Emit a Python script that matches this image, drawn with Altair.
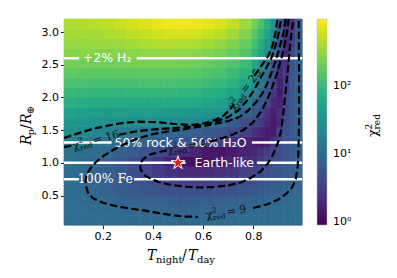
import altair as alt
import pandas as pd

# ---------------- data ----------------
x_edges = [0.045, 0.095, 0.145, 0.195, 0.245, 0.295, 0.345, 0.395, 0.445, 0.495,
           0.545, 0.595, 0.645, 0.695, 0.745, 0.795, 0.82, 0.845, 0.87, 0.895,
           0.92, 0.945, 0.97, 0.995]
y_edges = [0.05, 0.2, 0.35, 0.5, 0.65, 0.8, 0.95, 1.1, 1.25, 1.4, 1.55, 1.7,
           1.85, 2.0, 2.15, 2.3, 2.45, 2.6, 2.75, 2.9, 3.05, 3.2]
# reduced chi^2, rows from bottom (Rp small) to top
chi2_rows = [
    [11, 11, 11, 10.5, 10.5, 10, 10, 9.8, 9.6, 9.5, 9.5, 9.6, 9.8, 10, 10.2, 10.4, 10.5, 10.6, 10.7, 10.8, 10.9, 11, 11],
    [11, 10.8, 10.5, 10, 9.5, 9.0, 8.6, 8.3, 8.1, 8.0, 8.1, 8.3, 8.6, 9.0, 9.3, 9.6, 9.8, 10, 10.2, 10.4, 10.6, 10.8, 11],
    [10.8, 10.3, 9.5, 8.8, 8.2, 7.8, 7.4, 7.1, 6.9, 6.8, 6.8, 6.9, 7.1, 7.4, 7.8, 8.1, 8.4, 8.7, 9.0, 9.4, 9.8, 10.2, 10.5],
    [10.5, 9.6, 8.6, 7.8, 7.0, 6.3, 5.7, 5.2, 4.8, 4.5, 4.4, 4.5, 4.7, 5.0, 5.5, 5.9, 6.3, 6.7, 7.1, 7.6, 8.1, 8.6, 9.2],
    [10.3, 9.3, 8.2, 7.2, 6.3, 5.5, 4.8, 4.1, 3.6, 3.3, 3.2, 3.3, 3.5, 3.8, 4.2, 4.6, 5.0, 5.4, 5.9, 6.4, 7.0, 7.7, 8.5],
    [10.5, 9.6, 8.4, 7.2, 6.0, 4.8, 3.8, 3.0, 2.4, 2.1, 2.0, 2.1, 2.3, 2.6, 3.2, 3.7, 4.1, 4.6, 5.2, 5.8, 6.5, 7.3, 8.3],
    [11, 10, 8.8, 7.5, 6.0, 4.6, 3.6, 2.6, 1.7, 1.2, 1.1, 1.3, 1.5, 1.8, 2.2, 2.6, 3.0, 3.8, 4.4, 5.0, 5.8, 6.7, 7.9],
    [12.5, 11.5, 10.2, 9.2, 8.0, 6.8, 5.5, 4.2, 3.2, 2.4, 1.8, 1.4, 1.3, 1.4, 1.7, 2.0, 2.4, 2.9, 3.9, 4.6, 5.4, 6.4, 7.6],
    [18, 16.5, 14.5, 12.5, 10.8, 9.2, 8.0, 7.0, 6.0, 5.2, 4.6, 4.1, 3.4, 2.5, 1.8, 1.5, 1.4, 1.5, 2.6, 3.8, 5.0, 6.2, 7.5],
    [28, 25, 22, 19, 17, 15.3, 13, 10.5, 8.8, 8.0, 7.2, 6.3, 5.3, 4.3, 3.2, 2.4, 1.8, 1.5, 1.4, 3.9, 5.2, 6.6, 8.0],
    [38, 34, 30, 28, 27, 26, 26, 26, 26, 25, 23, 18, 9.5, 6.5, 4.6, 3.8, 2.8, 1.9, 1.4, 1.9, 4.2, 6.5, 8.2],
    [52, 48, 44, 42, 41, 41, 41, 41, 40, 38, 36, 33, 30, 17, 8, 5.5, 3.9, 2.4, 1.5, 2.4, 4.3, 6.5, 8.4],
    [72, 68, 64, 62, 62, 62, 63, 63, 62, 60, 57, 52, 46, 32, 16, 8.5, 6, 4.0, 2.0, 1.7, 4.2, 6.5, 8.4],
    [98, 94, 90, 88, 88, 89, 90, 90, 89, 86, 82, 76, 67, 55, 30, 17, 9.5, 5.5, 3.0, 1.5, 3.6, 6.3, 8.4],
    [130, 126, 122, 120, 121, 123, 125, 126, 125, 121, 115, 106, 94, 78, 55, 26, 15, 8, 4, 1.6, 3.0, 6.2, 8.4],
    [170, 166, 162, 160, 162, 165, 168, 170, 168, 163, 155, 143, 127, 106, 78, 35, 22, 10, 4.8, 1.8, 3.0, 6.0, 8.4],
    [220, 215, 212, 210, 212, 216, 220, 223, 221, 214, 203, 187, 166, 140, 105, 60, 32, 14, 6, 2.5, 2.4, 5.5, 8.4],
    [270, 266, 264, 264, 268, 278, 290, 300, 302, 296, 280, 255, 222, 185, 140, 85, 50, 26, 12, 4.0, 1.8, 4.2, 8.2],
    [320, 318, 320, 330, 345, 370, 395, 420, 432, 428, 405, 365, 310, 250, 185, 115, 70, 36, 17, 5.0, 1.8, 3.6, 8.0],
    [370, 372, 380, 400, 430, 480, 530, 580, 620, 620, 600, 540, 460, 360, 250, 150, 95, 50, 24, 7.0, 2.0, 3.0, 7.8],
    [420, 428, 450, 490, 540, 600, 680, 760, 820, 830, 800, 740, 650, 500, 340, 210, 130, 70, 30, 8.0, 2.2, 2.5, 7.5],
]

# dashed contours (segments separated where the inline labels sit)
contour_25 = [
    [(0.045, 1.38), (0.10, 1.45), (0.16, 1.52), (0.22, 1.57), (0.28, 1.61), (0.34, 1.63), (0.42, 1.62),
     (0.50, 1.59), (0.56, 1.58), (0.61, 1.61), (0.65, 1.66), (0.685, 1.73), (0.71, 1.83), (0.725, 1.90)],
    [(0.805, 2.33), (0.83, 2.47), (0.86, 2.63), (0.878, 2.8), (0.89, 3.0), (0.897, 3.2)],
]
contour_16 = [
    [(0.045, 1.24), (0.075, 1.265)],
    [(0.265, 1.43), (0.33, 1.48), (0.40, 1.51), (0.47, 1.53), (0.54, 1.55), (0.60, 1.58), (0.65, 1.63),
     (0.70, 1.70), (0.74, 1.80), (0.775, 1.95), (0.805, 2.12), (0.83, 2.30), (0.855, 2.47), (0.875, 2.62),
     (0.89, 2.80), (0.903, 3.0), (0.912, 3.2)],
]
contour_9 = [
    [(0.93, 3.2), (0.922, 3.0), (0.908, 2.8), (0.893, 2.6), (0.875, 2.4), (0.855, 2.2), (0.835, 2.05),
     (0.81, 1.92), (0.78, 1.80), (0.745, 1.70), (0.70, 1.64), (0.64, 1.59), (0.58, 1.55), (0.52, 1.51),
     (0.46, 1.48), (0.40, 1.44), (0.33, 1.36), (0.26, 1.24), (0.20, 1.10), (0.16, 0.97), (0.135, 0.82),
     (0.13, 0.69), (0.14, 0.55), (0.16, 0.46), (0.20, 0.39), (0.25, 0.34), (0.31, 0.30), (0.37, 0.27),
     (0.44, 0.22), (0.52, 0.18), (0.58, 0.175)],
    [(0.80, 0.31), (0.86, 0.37), (0.90, 0.44), (0.93, 0.52), (0.955, 0.62), (0.97, 0.75), (0.978, 0.95),
     (0.981, 1.2), (0.983, 1.6), (0.983, 2.0), (0.983, 2.5), (0.982, 3.0), (0.982, 3.2)],
]
contour_4 = [
    [(0.942, 3.2), (0.935, 3.0), (0.925, 2.8), (0.913, 2.6), (0.898, 2.4), (0.88, 2.2), (0.86, 2.0),
     (0.835, 1.8), (0.80, 1.62), (0.76, 1.50), (0.71, 1.42), (0.66, 1.36), (0.615, 1.31)],
    [(0.455, 1.19), (0.43, 1.17), (0.39, 1.13), (0.365, 1.07), (0.35, 1.0), (0.35, 0.90), (0.37, 0.80),
     (0.42, 0.71), (0.47, 0.665), (0.52, 0.64), (0.58, 0.625), (0.64, 0.63), (0.70, 0.655), (0.75, 0.70),
     (0.79, 0.77), (0.83, 0.87), (0.86, 1.0), (0.88, 1.13), (0.90, 1.32), (0.912, 1.5), (0.92, 1.74),
     (0.927, 2.0), (0.935, 2.3), (0.943, 2.6), (0.95, 2.9), (0.957, 3.1), (0.96, 3.2)],
]
contour_levels = ["25", "16", "9", "4"]
contour_label_x = [0.765, 0.17, 0.69, 0.535]
contour_label_y = [2.115, 1.345, 0.245, 1.25]
contour_label_angle = [307, 345, 351, 349]

# composition lines
comp_names = ["+2% H₂", "50% rock & 50% H₂O", "Earth-like", "100% Fe"]
comp_radius = [2.6, 1.31, 1.0, 0.75]
comp_label_x = [0.217, 0.51, 0.685, 0.21]
comp_fonts = ["DejaVu Sans", "DejaVu Sans", "DejaVu Sans", "DejaVu Serif"]
comp_segments = [
    [(0.045, 0.105), (0.335, 0.995)],
    [(0.045, 0.235), (0.795, 0.995)],
    [(0.045, 0.53), (0.815, 0.995)],
    [(0.045, 0.105), (0.325, 0.995)],
]
earth_t = [0.5]
earth_r = [1.0]

x_ticks = [0.2, 0.4, 0.6, 0.8]
y_ticks = [0.5, 1.0, 1.5, 2.0, 2.5, 3.0]
cbar_ticks = [1, 10, 100]

STAR = ("M0,-1L0.2245,-0.309L0.9511,-0.309L0.3633,0.118L0.5878,0.809L0,0.382"
        "L-0.5878,0.809L-0.3633,0.118L-0.9511,-0.309L-0.2245,-0.309Z")

# ---------------- tables ----------------
heat_rows = []
for j, row in enumerate(chi2_rows):
    for i, v in enumerate(row):
        heat_rows.append({"x0": x_edges[i], "x1": x_edges[i + 1],
                          "y0": y_edges[j], "y1": y_edges[j + 1], "chi2": v})
heat_df = pd.DataFrame(heat_rows)

wl_rows = []
for name, r, segs in zip(comp_names, comp_radius, comp_segments):
    for a, b in segs:
        wl_rows.append({"x0": a, "x1": b, "y": r, "name": name})
wl_df = pd.DataFrame(wl_rows)

W, H = 238, 206
xs = alt.Scale(domain=[0.045, 0.995], nice=False, zero=False)
ys = alt.Scale(domain=[0.05, 3.2], nice=False, zero=False)
cs = alt.Scale(type="log", domain=[0.9, 950], scheme="viridis", clamp=True)

label_expr = "datum.value == 1 ? '10\u2070' : datum.value == 10 ? '10\u00b9' : '10\u00b2'"

heat = alt.Chart(heat_df).mark_rect(
    stroke=alt.ExprRef(expr="scale('color', datum.chi2)"), strokeWidth=0.7
).encode(
    x=alt.X("x0:Q", scale=xs, title=None,
            axis=alt.Axis(values=x_ticks, format=".1f")),
    x2="x1:Q",
    y=alt.Y("y0:Q", scale=ys, title=None,
            axis=alt.Axis(values=y_ticks, format=".1f")),
    y2="y1:Q",
    color=alt.Color("chi2:Q", scale=cs, title=None,
                    legend=alt.Legend(type="gradient", orient="none", legendX=W + 15, legendY=0,
                                      direction="vertical", gradientLength=H,
                                      gradientThickness=10, values=cbar_ticks,
                                      labelExpr=label_expr, labelFont="DejaVu Sans",
                                      labelFontSize=11, labelColor="black",
                                      labelOffset=6, gradientStrokeColor="#bbbbbb",
                                      gradientStrokeWidth=0.5, padding=0)),
)

wlines = alt.Chart(wl_df).mark_rule(color="white", strokeWidth=2.5).encode(
    x=alt.X("x0:Q", title=None), x2="x1:Q", y=alt.Y("y:Q", title=None))

wtexts = []
for name, r, lx, f in zip(comp_names, comp_radius, comp_label_x, comp_fonts):
    wtexts.append(
        alt.Chart(pd.DataFrame({"x": [lx], "y": [r], "t": [name]}))
        .mark_text(color="white", font=f, fontSize=12.5, align="center", baseline="middle")
        .encode(x=alt.X("x:Q", title=None), y=alt.Y("y:Q", title=None), text="t:N"))

contour_layers = []
for lev, segs in zip(contour_levels, [contour_25, contour_16, contour_9, contour_4]):
    for seg in segs:
        sdf = pd.DataFrame({"x": [p[0] for p in seg], "y": [p[1] for p in seg],
                            "ord": list(range(len(seg)))})
        contour_layers.append(
            alt.Chart(sdf).mark_line(color="black", strokeWidth=2.2, strokeDash=[7.5, 3.3])
            .encode(x=alt.X("x:Q", title=None), y=alt.Y("y:Q", title=None),
                    order="ord:Q"))


def clabel(xv, yv, ang, num):
    w = 6.5 + 13 + 1.5 + (12 + 6.7 * len(num))
    s = -w / 2
    base = alt.Chart(pd.DataFrame({"x": [xv], "y": [yv]}))
    enc = dict(x=alt.X("x:Q", title=None), y=alt.Y("y:Q", title=None))
    parts = [
        ("χ", 11, s, 3.5),
        ("2", 7.5, s + 6.5, -1.5),
        ("red", 7.5, s + 6.5, 6.0),
        ("= " + num, 11, s + 21, 3.5),
    ]
    out = []
    for t, fs, dx, dy in parts:
        out.append(base.mark_text(text=t, font="DejaVu Serif", fontSize=fs, color="#111111",
                                  align="left", baseline="alphabetic", angle=ang,
                                  dx=dx, dy=dy).encode(**enc))
    return out


clabels = []
for lev, lx, ly, la in zip(contour_levels, contour_label_x, contour_label_y, contour_label_angle):
    clabels += clabel(lx, ly, la, lev)

star = alt.Chart(pd.DataFrame({"x": earth_t, "y": earth_r})).mark_point(
    shape=STAR, filled=True, size=200, fill="#ee1111", stroke="white",
    strokeWidth=1, opacity=1).encode(x=alt.X("x:Q", title=None), y=alt.Y("y:Q", title=None))

dummy = pd.DataFrame({"a": [0]})


def ptxt(t, px, py, fs, style="normal", angle=0, dx=0, dy=0, font="DejaVu Serif"):
    return alt.Chart(dummy).mark_text(text=t, font=font, fontSize=fs, fontStyle=style,
                                      angle=angle, dx=dx, dy=dy, color="black",
                                      align="left", baseline="alphabetic").encode(
        x=alt.value(px), y=alt.value(py))


titles = [
    # x-axis title  T_night / T_day
    ptxt("T", 83, 241, 14, "italic"),
    ptxt("night", 92, 244, 10),
    ptxt("/", 118, 241, 14),
    ptxt("T", 124, 241, 14, "italic"),
    ptxt("day", 133, 244, 10),
    # y-axis title  R_p / R_⊕
    ptxt("R", -33, 126, 14, "italic", 270, 0, 0),
    ptxt("p", -33, 126, 10, "normal", 270, 9.5, 3),
    ptxt("/", -33, 126, 14, "normal", 270, 16, 0),
    ptxt("R", -33, 126, 14, "italic", 270, 21, 0),
    ptxt("⊕", -33, 126, 10, "normal", 270, 30.5, 3),
    # colour-bar title  chi^2_red
    ptxt("χ", 313, 118, 13, "normal", 270, 0, 0),
    ptxt("2", 313, 118, 9, "normal", 270, 7.5, -5),
    ptxt("red", 313, 118, 9, "normal", 270, 7.5, 3),
]

chart = alt.layer(heat, wlines, *wtexts, *contour_layers, *clabels, star, *titles).properties(
    width=W, height=H, padding={"left": 12, "top": 6, "right": 0, "bottom": 0}
).configure_view(stroke="#bdbdbd", strokeWidth=1).configure_axis(
    domain=False, grid=False, tickColor="black", tickSize=3.5, tickWidth=0.9,
    labelFont="DejaVu Sans", labelFontSize=11, labelColor="black", labelPadding=2)

chart.save("out.html", embed_options={"renderer": "svg", "actions": False})
